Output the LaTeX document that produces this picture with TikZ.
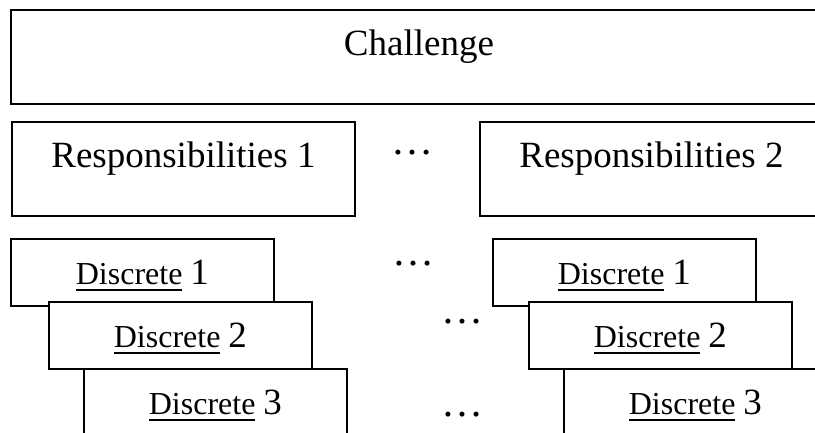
\documentclass[tikz,border=0pt]{standalone}
\usepackage{fontspec}
\setmainfont{Liberation Serif}
\newsavebox\ulbox
% word with a drawn underline
\newcommand\ulword[1]{\sbox\ulbox{#1}\rlap{\rule[-7pt]{\wd\ulbox}{1.8pt}}\usebox\ulbox}
\newcommand\discrete[1]{{\fontsize{32}{38}\selectfont\ulword{Discrete} }{\fontsize{37}{44}\selectfont #1}}
\begin{document}
\begin{tikzpicture}[x=1pt,y=-1pt,
  box/.style={draw, line width=1.8pt, fill=white, inner sep=0pt, anchor=north west},
  bigbox/.style={box, minimum width=343pt, minimum height=94pt},
  smallbox/.style={box, minimum width=263pt, minimum height=67pt},
  lbl/.style={inner sep=0pt, anchor=base, font=\fontsize{37}{44}\selectfont},
  dotsnode/.style={inner sep=0pt, anchor=base, font=\fontsize{42}{48}\selectfont}]
\useasboundingbox (0,0) rectangle (815,432);
\clip (0,0) rectangle (815,432);

% top level
\node[box, minimum width=816pt, minimum height=94pt] (chal) at (10,9) {};
\node[lbl] (chalT) at ([yshift=-46pt]chal.north) {Challenge};

% responsibilities
\node[bigbox] (resp1) at (11,121) {};
\node[lbl] (resp1T) at ([yshift=-46pt]resp1.north) {Responsibilities 1};
\node[bigbox] (resp2) at (479,121) {};
\node[lbl] (resp2T) at ([yshift=-46pt]resp2.north) {Responsibilities 2};
\node[dotsnode] (rdots) at (412,154) {…};

% left stack of discrete items
\node[smallbox] (la) at (10,238) {};
\node[lbl] (laT) at ([yshift=-46pt]la.north) {\discrete{1}};
\node[smallbox] (lb) at (48,301) {};
\node[lbl] (lbT) at ([yshift=-46pt]lb.north) {\discrete{2}};
\node[smallbox] (lc) at (83,368) {};
\node[lbl] (lcT) at ([yshift=-46pt]lc.north) {\discrete{3}};

% right stack of discrete items
\node[smallbox] (ra) at (492,238) {};
\node[lbl] (raT) at ([yshift=-46pt]ra.north) {\discrete{1}};
\node[smallbox] (rb) at (528,301) {};
\node[lbl] (rbT) at ([yshift=-46pt]rb.north) {\discrete{2}};
\node[smallbox] (rc) at (563,368) {};
\node[lbl] (rcT) at ([yshift=-46pt]rc.north) {\discrete{3}};

% ellipses between the stacks
\node[dotsnode] (dotsA) at (413,265) {…};
\node[dotsnode] (dotsB) at (462,323) {…};
\node[dotsnode] (dotsC) at (462,416) {…};
\end{tikzpicture}
\end{document}
